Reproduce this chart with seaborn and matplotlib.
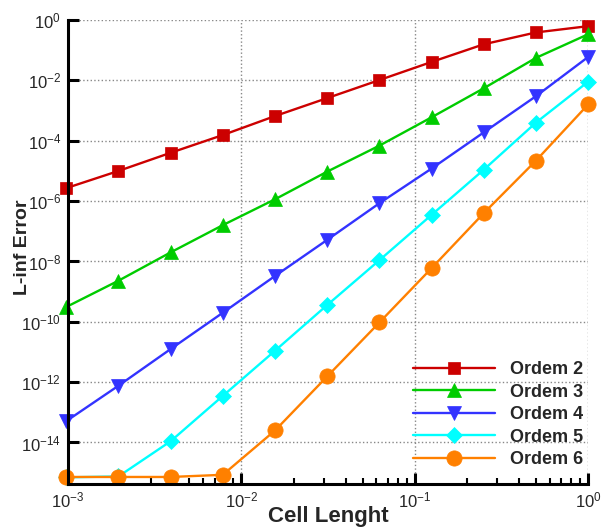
import pandas as pd
import matplotlib.pyplot as plt
import seaborn as sns
from matplotlib.ticker import FixedLocator, LogLocator

# -------------------------------
# Data
# -------------------------------
cell_length = [1.0, 0.5, 0.25, 0.125, 0.0625, 0.03125, 0.015625,
               0.0078125, 0.00390625, 0.001953125, 0.0009765625]

ordem_2 = [6.3e-1, 3.9e-1, 1.58e-1, 4.1e-2, 1.03e-2, 2.6e-3, 6.6e-4,
           1.55e-4, 4.0e-5, 1.0e-5, 2.7e-6]
ordem_3 = [3.4e-1, 5.6e-2, 5.5e-3, 6.0e-4, 6.9e-5, 9.5e-6, 1.15e-6,
           1.6e-7, 2.0e-8, 2.3e-9, 3.1e-10]
ordem_4 = [6.0e-2, 3.0e-3, 1.9e-4, 1.2e-5, 8.5e-7, 5.2e-8, 3.3e-9,
           2.0e-10, 1.25e-11, 7.6e-13, 5.1e-14]
ordem_5 = [9.1e-3, 4.0e-4, 1.1e-5, 3.5e-7, 1.1e-8, 3.6e-10, 1.1e-11,
           3.5e-13, 1.1e-14, 7.5e-16, 7.0e-16]
ordem_6 = [1.6e-3, 2.2e-5, 4.0e-7, 6.0e-9, 9.5e-11, 1.55e-12, 2.5e-14,
           8.5e-16, 7.2e-16, 7.2e-16, 7.2e-16]

labels = ["Ordem 2", "Ordem 3", "Ordem 4", "Ordem 5", "Ordem 6"]
colors = ["#CC0000", "#00CC00", "#3333FF", "#00FFFF", "#FF8000"]
markers = ["s", "^", "v", "D", "o"]
marker_sizes = [9, 9.5, 9.5, 8.5, 11]

y_ticks = [1e0, 1e-2, 1e-4, 1e-6, 1e-8, 1e-10, 1e-12, 1e-14]

# -------------------------------
# Style
# -------------------------------
sns.set_style("white")
plt.rcParams["font.family"] = ["Liberation Sans", "DejaVu Sans"]
plt.rcParams["mathtext.fontset"] = "custom"
plt.rcParams["mathtext.rm"] = "Liberation Sans"
plt.rcParams["mathtext.it"] = "Liberation Sans:italic"
plt.rcParams["mathtext.bf"] = "Liberation Sans:bold"


def main():
    fig = plt.figure(figsize=(6.02, 5.29), dpi=100)
    ax = fig.add_axes([0.113, 0.085, 0.864, 0.877])
    ax.set_xscale("log")
    ax.set_yscale("log")

    series = [ordem_2, ordem_3, ordem_4, ordem_5, ordem_6]
    for vals, lab, col, mk, ms in zip(series, labels, colors, markers, marker_sizes):
        df = pd.DataFrame({"h": cell_length, "err": vals})
        sns.lineplot(data=df, x="h", y="err", ax=ax, label=lab, color=col,
                     marker=mk, markersize=ms, markeredgecolor=col,
                     markeredgewidth=0.5, linewidth=1.7, clip_on=False)

    ax.set_xlim(1e-3, 1e0)
    ax.set_ylim(4.2e-16, 1e0)

    ax.yaxis.set_major_locator(FixedLocator(y_ticks))
    ax.yaxis.set_minor_locator(FixedLocator([]))
    ax.xaxis.set_major_locator(LogLocator(base=10))
    ax.xaxis.set_minor_locator(LogLocator(base=10, subs=range(2, 10)))

    ax.grid(True, which="major", linestyle=":", color="#888888", linewidth=1.0)
    for side in ["top", "right"]:
        ax.spines[side].set_visible(False)
    for side in ["left", "bottom"]:
        ax.spines[side].set_linewidth(2.2)
        ax.spines[side].set_color("black")

    ax.tick_params(which="major", direction="in", length=8, width=2.2,
                   labelsize=12, color="black", pad=5)
    ax.tick_params(which="minor", direction="in", length=4, width=1.5,
                   color="black")
    ax.tick_params(axis="y", which="both", left=True)
    ax.tick_params(axis="x", which="both", bottom=True)

    ax.set_xlabel("Cell Lenght", fontsize=16, fontweight="bold")
    ax.set_ylabel("L-inf Error", fontsize=14, fontweight="bold")
    ax.xaxis.set_label_coords(0.5, -0.048)
    ax.yaxis.set_label_coords(-0.072, 0.511)

    ax.legend(loc="lower right", frameon=False, handlelength=4.55,
              handletextpad=0.83, labelspacing=0.3,
              bbox_to_anchor=(1.004, 0.019), borderaxespad=0.0,
              prop={"weight": "bold", "size": 13})

    fig.savefig("out.png", dpi=100)


if __name__ == "__main__":
    main()
